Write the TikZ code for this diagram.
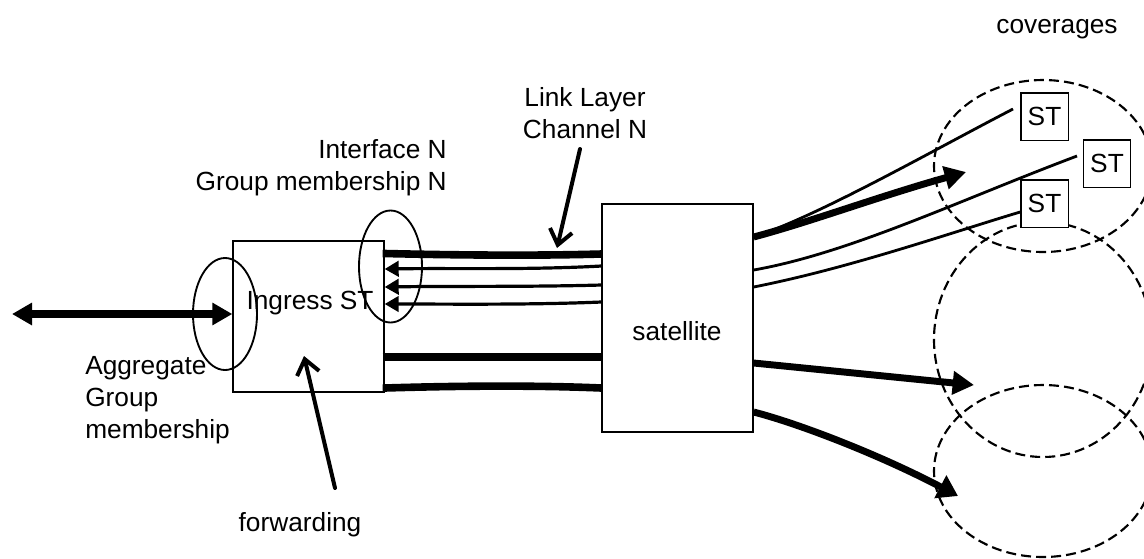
\documentclass[tikz,border=0pt]{standalone}
\usepackage{fontspec}
\setmainfont{Liberation Sans}
\usetikzlibrary{arrows.meta}
\begin{document}
\begin{tikzpicture}[
    x=0.75pt, y=-0.75pt,
    box/.style={rectangle, draw, line width=1pt, inner sep=0pt},
    label/.style={font=\fontsize{19.7}{24}\selectfont, align=center, inner sep=0pt},
    stbox/.style={box, fill=white, minimum width=35.5pt, minimum height=35.5pt, font=\fontsize{19.7}{24}\selectfont},
    coverage/.style={draw, line width=1.6pt, dash pattern=on 7.5pt off 3.8pt},
    ring/.style={draw, line width=1.4pt},
    thickline/.style={line width=5.7pt, shorten <=-1.5pt},
    thinline/.style={line width=2.1pt},
    smallhead/.style={-{Triangle[length=10.5pt,width=11.5pt]}, line width=2.4pt},
    bighead/.style={-{Triangle[length=16pt,width=17pt]}, line width=5.2pt},
    pointer/.style={-{Straight Barb[length=11pt,width=17pt]}, line width=3pt, line cap=round}
]
\useasboundingbox (0,0) rectangle (1144,558);

% Coverage areas
\draw[coverage] (1043,166) ellipse [x radius=109, y radius=86];
\draw[coverage] (1043,339.5) ellipse [x radius=109, y radius=117.5];
\draw[coverage] (1043,471) ellipse [x radius=109, y radius=86];

% Main boxes
\node[box, minimum width=113.25pt, minimum height=113.25pt] (ingress) at (308.5,316.5) {};
\node[box, minimum width=113.25pt, minimum height=171pt] (satellite) at (677.5,318) {};
\node[label] (ingresstext) at (310,303) {Ingress ST};
\node[label] (sattext) at (677,331) {satellite};

% Terminals
\node[stbox] (st1) at (1044.5,116.5) {ST};
\node[stbox] (st2) at (1107,163.5) {ST};
\node[stbox] (st3) at (1044.5,203.5) {ST};

% Rings
\draw[ring] (225,314) ellipse [x radius=32, y radius=56];
\draw[ring] (390.5,266.5) ellipse [x radius=31.5, y radius=56];

% Labels
\node[label] (coverages) at (1057,29) {coverages};
\node[label] (linklabel) at (585,113) {Link Layer\\Channel N};
\node[label, align=right, anchor=east] (ifacelabel) at (447,168) {Interface N\\Group membership N};
\node[label, align=left, anchor=west] (agglabel) at (85,400) {Aggregate\\Group\\membership};
\node[label] (fwdlabel) at (300,525) {forwarding};
\coordinate (linkstart) at (580,149);
\coordinate (fwdstart) at (335,488);
\coordinate (extern) at (12,314);

% Channels between ingress and satellite
\draw[thickline] (ingress.east |- 0,253.5) .. controls (450,255) and (530,256) .. (satellite.west |- 0,254);
\draw[smallhead] (satellite.west |- 0,266) .. controls (530,270) and (450,268) .. (ingress.east |- 0,269);
\draw[smallhead] (satellite.west |- 0,285) .. controls (530,287) and (450,286) .. (ingress.east |- 0,287);
\draw[smallhead] (satellite.west |- 0,302) .. controls (530,305) and (450,304) .. (ingress.east |- 0,304);
\draw[thickline] (ingress.east |- 0,357) -- (satellite.west |- 0,357);
\draw[thickline] (ingress.east |- 0,388) .. controls (450,386) and (530,385) .. (satellite.west |- 0,388);

% Beams out of the satellite
\draw[thinline] (satellite.east |- 0,237) .. controls (820,215) and (930,152) .. (1013,109);
\draw[bighead] (satellite.east |- 0,237) .. controls (810,222) and (880,196) .. (966,172);
\draw[thinline] (satellite.east |- 0,270) .. controls (850,253) and (960,200) .. (1077,156);
\draw[thinline] (satellite.east |- 0,287) .. controls (850,268) and (950,233) .. (st3.west |- 0,212);
\draw[bighead] (satellite.east |- 0,363) -- (974,385);
\draw[bighead, -{Triangle[length=15pt,width=18.5pt]}] (satellite.east |- 0,412) .. controls (800,424) and (880,455) .. (958,496);

% External link and pointers
\draw[{Triangle[length=15pt,width=16pt]}-{Triangle[length=15pt,width=16pt]}, line width=5.5pt] (extern) -- (ingress.west |- extern);
\draw[pointer] (linkstart) -- (557,248);
\draw[pointer] (fwdstart) -- (304,356);
\end{tikzpicture}
\end{document}
